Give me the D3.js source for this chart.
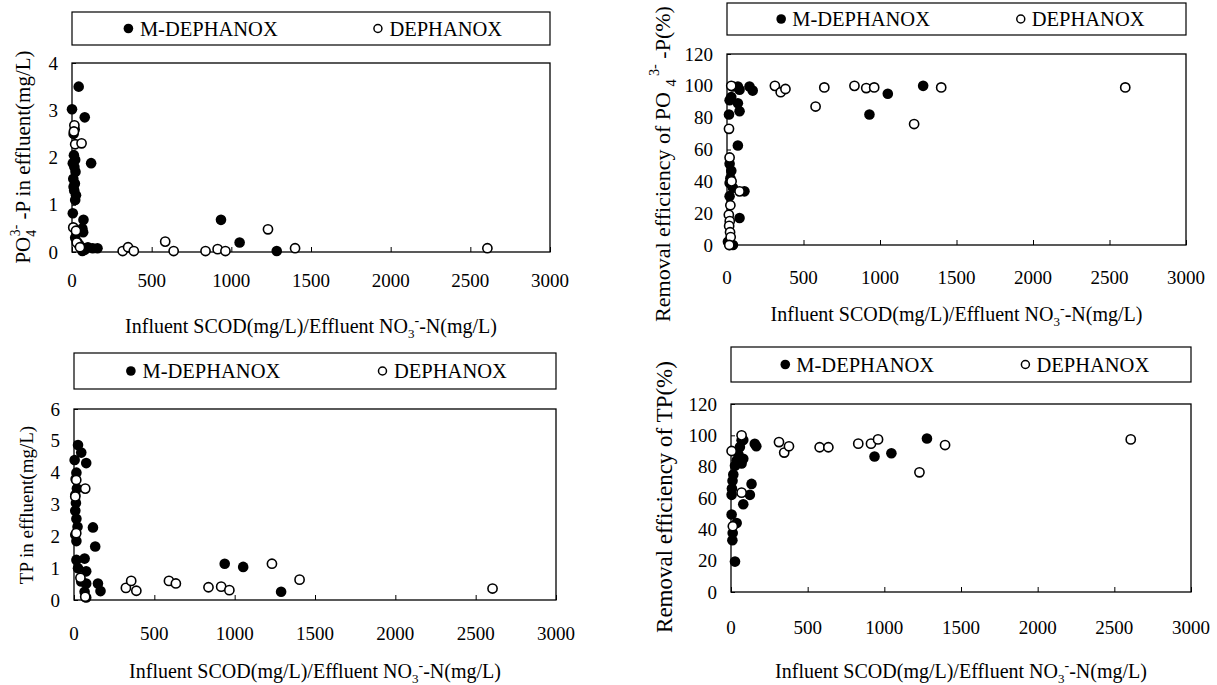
<!DOCTYPE html>
<html>
<head>
<meta charset="utf-8">
<script src="https://cdn.jsdelivr.net/npm/d3@7"></script>
<style>
  body { margin: 0; background: #fff; }
</style>
</head>
<body>
<div id="chart"></div>
<script>
// values, [ratio, value]
var xTicks = [0, 500, 1000, 1500, 2000, 2500, 3000]

var po4Eff_M = [[0,3.02],[42,3.5],[17,2.6],[80,2.85],[10,2.5],[12,2.05],[20,1.95],[5,1.88],[120,1.88],[15,1.8],[22,1.7],[8,1.55],[18,1.45],[10,1.38],[14,1.3],[25,1.2],[20,1.1],[5,0.82],[72,0.68],[65,0.5],[70,0.42],[20,0.3],[35,0.2],[45,0.15],[60,0.1],[80,0.05],[100,0.1],[130,0.08],[160,0.08],[65,0.02],[935,0.68],[1052,0.2],[1285,0.02]]
var po4Eff_D = [[15,2.68],[12,2.55],[20,2.28],[60,2.3],[8,0.52],[25,0.45],[30,0.2],[50,0.1],[318,0.02],[352,0.1],[388,0.02],[585,0.22],[638,0.02],[838,0.02],[914,0.06],[963,0.02],[1230,0.48],[1400,0.08],[2607,0.08]]

var po4Rem_M = [[39,99.6],[71,99.6],[147,99.6],[168,97],[82,97.5],[28,93],[17,91],[71,89],[82,84],[13,82],[71,62.5],[17,51],[28,46.6],[22,42],[17,39],[39,36],[114,33.7],[17,30.7],[82,17],[17,0],[39,0],[6,2],[931,82],[1051,95],[1282,100]]
var po4Rem_D = [[28,100],[13,73],[17,55],[30,40],[82,33.7],[22,25],[12,19],[18,15],[14,12],[20,8],[24,5],[15,0],[313,100],[351,96],[382,98],[579,87],[636,99],[833,100],[910,98.6],[962,99],[1223,76],[1400,99],[2603,99]]

var tpEff_M = [[25,4.87],[45,4.63],[4,4.4],[76,4.3],[15,4.0],[10,3.8],[18,3.5],[8,3.3],[12,3.05],[8,2.8],[15,2.55],[22,2.3],[8,2.05],[15,1.85],[118,2.28],[132,1.68],[15,1.26],[66,1.3],[25,1.0],[76,0.9],[45,0.58],[76,0.52],[149,0.52],[165,0.28],[66,0.26],[76,0.08],[938,1.14],[1053,1.04],[1289,0.26]]
var tpEff_D = [[14,3.77],[70,3.5],[8,3.25],[14,2.1],[40,0.7],[70,0.1],[323,0.38],[356,0.6],[388,0.29],[591,0.6],[634,0.52],[837,0.4],[916,0.42],[967,0.31],[1232,1.14],[1404,0.64],[2605,0.36]]

var tpRem_M = [[155,94.6],[165,93],[80,97],[69,96.8],[58,92.5],[48,88],[37,84],[26,80.6],[15,75],[10,71],[6,66],[4,62],[134,69],[123,62],[80,56],[37,44],[4,49.5],[11,37.6],[9,33],[26,19.4],[80,85],[69,82],[936,86.5],[1046,88.6],[1278,98]]
var tpRem_D = [[69,100],[4,90],[69,63.4],[12,42],[313,95.7],[347,89],[378,93],[578,92.4],[635,92.4],[830,94.7],[913,94.7],[959,97.4],[1229,76.4],[1396,93.8],[2607,97.4]]

var legendNames = ["M-DEPHANOX", "DEPHANOX"]

var svg = d3.select("#chart").append("svg")
  .attr("width", 1217)
  .attr("height", 685)
  .attr("font-family", "'Liberation Serif', 'DejaVu Serif', serif")

// panel layouts
var panels = [
  { m: po4Eff_M, d: po4Eff_D, yMax: 4, yStep: 1, x0: 72, x1: 550, y0: 63, y1: 252, lg0: 12, lg1: 45, tickY: 287, titleY: 333, yTitleX: 30, yTitleY: 157, ytSize: 21, yTitle: "po4eff" },
  { m: po4Rem_M, d: po4Rem_D, yMax: 120, yStep: 20, x0: 727, x1: 1186, y0: 54, y1: 245, lg0: 3, lg1: 35, tickY: 284, titleY: 321, yTitleX: 670, yTitleY: 164, ytSize: 22, yTitle: "po4rem" },
  { m: tpEff_M, d: tpEff_D, yMax: 6, yStep: 1, x0: 74, x1: 556, y0: 409, y1: 600, lg0: 353, lg1: 389, tickY: 640, titleY: 678, yTitleX: 33, yTitleY: 505, ytSize: 19, yTitle: "tpeff" },
  { m: tpRem_M, d: tpRem_D, yMax: 120, yStep: 20, x0: 731, x1: 1191, y0: 404, y1: 592, lg0: 347, lg1: 382, tickY: 634, titleY: 678, yTitleX: 672, yTitleY: 497, ytSize: 23, yTitle: "tprem" }
]

panels.forEach(function (p) {
  var g = svg.append("g")

  var x = d3.scaleLinear().domain([0, 3000]).range([p.x0, p.x1])
  var y = d3.scaleLinear().domain([0, p.yMax]).range([p.y1, p.y0])

  // legend box
  g.append("rect")
    .attr("x", p.x0).attr("y", p.lg0)
    .attr("width", p.x1 - p.x0).attr("height", p.lg1 - p.lg0)
    .attr("fill", "none").attr("stroke", "#000").attr("stroke-width", 1.2)
  var lgY = (p.lg0 + p.lg1) / 2
  var w = p.x1 - p.x0
  g.append("circle").attr("cx", p.x0 + w * 0.118).attr("cy", lgY).attr("r", 4.8).attr("fill", "#000")
  g.append("text").attr("x", p.x0 + w * 0.142).attr("y", lgY + 7).attr("font-size", 20.5).text(legendNames[0])
  g.append("circle").attr("cx", p.x0 + w * 0.64).attr("cy", lgY).attr("r", 4)
    .attr("fill", "#fff").attr("stroke", "#000").attr("stroke-width", 1.5)
  g.append("text").attr("x", p.x0 + w * 0.664).attr("y", lgY + 7).attr("font-size", 20.5).text(legendNames[1])

  // frame
  g.append("rect")
    .attr("x", p.x0).attr("y", p.y0)
    .attr("width", p.x1 - p.x0).attr("height", p.y1 - p.y0)
    .attr("fill", "none").attr("stroke", "#000").attr("stroke-width", 1.3)

  // x axis, ticks pointing inward
  var xAxis = g.append("g").attr("transform", "translate(0," + p.y1 + ")")
    .call(d3.axisTop(x).tickValues(xTicks).tickSize(5).tickFormat(""))
  xAxis.select(".domain").remove()
  g.selectAll(".xl").data(xTicks).enter().append("text")
    .attr("x", function (d) { return x(d) }).attr("y", p.tickY)
    .attr("text-anchor", "middle").attr("font-size", 19)
    .text(function (d) { return d })

  // y axis, short inward ticks
  var yTicks = d3.range(0, p.yMax + 0.001, p.yStep)
  var yAxis = g.append("g").attr("transform", "translate(" + p.x0 + ",0)")
    .call(d3.axisRight(y).tickValues(yTicks).tickSize(4).tickFormat(""))
  yAxis.select(".domain").remove()
  g.selectAll(".yl").data(yTicks).enter().append("text")
    .attr("x", p.x0 - 14).attr("y", function (d) { return y(d) + 6.5 })
    .attr("text-anchor", "end").attr("font-size", 19)
    .text(function (d) { return d })

  // points
  g.append("g").selectAll("circle").data(p.m).enter().append("circle")
    .attr("cx", function (d) { return x(d[0]) }).attr("cy", function (d) { return y(d[1]) })
    .attr("r", 5.3).attr("fill", "#000")
  g.append("g").selectAll("circle").data(p.d).enter().append("circle")
    .attr("cx", function (d) { return x(d[0]) }).attr("cy", function (d) { return y(d[1]) })
    .attr("r", 4.6).attr("fill", "#fff").attr("stroke", "#000").attr("stroke-width", 1.6)

  // x title
  var xt = g.append("text").attr("x", (p.x0 + p.x1) / 2).attr("y", p.titleY)
    .attr("text-anchor", "middle").attr("font-size", 20)
  xt.append("tspan").text("Influent SCOD(mg/L)/Effluent NO")
  xt.append("tspan").attr("dy", 5).attr("font-size", 13).text("3")
  xt.append("tspan").attr("dy", -13).attr("font-size", 14).text("-")
  xt.append("tspan").attr("dy", 8).text("-N(mg/L)")

  // y title
  var s = p.ytSize
  var yt = g.append("text")
    .attr("transform", "translate(" + p.yTitleX + "," + p.yTitleY + ") rotate(-90)")
    .attr("text-anchor", "middle").attr("font-size", s)
  if (p.yTitle == "po4eff") {
    yt.append("tspan").text("PO")
    yt.append("tspan").attr("dy", s * 0.28).attr("font-size", s * 0.65).text("4")
    yt.append("tspan").attr("dy", -s * 0.78).attr("dx", -s * 0.3).attr("font-size", s * 0.65).text("3-")
    yt.append("tspan").attr("dy", s * 0.5).text(" -P in effluent(mg/L)")
  } else if (p.yTitle == "po4rem") {
    yt.append("tspan").text("Removal efficiency of PO ")
    yt.append("tspan").attr("dy", s * 0.28).attr("font-size", s * 0.65).text("4")
    yt.append("tspan").attr("dy", -s * 0.78).attr("dx", s * 0.15).attr("font-size", s * 0.65).text("3-")
    yt.append("tspan").attr("dy", s * 0.5).text(" -P(%)")
  } else if (p.yTitle == "tpeff") {
    yt.text("TP in effluent(mg/L)")
  } else {
    yt.text("Removal efficiency of TP(%)")
  }
})
</script>
</body>
</html>
